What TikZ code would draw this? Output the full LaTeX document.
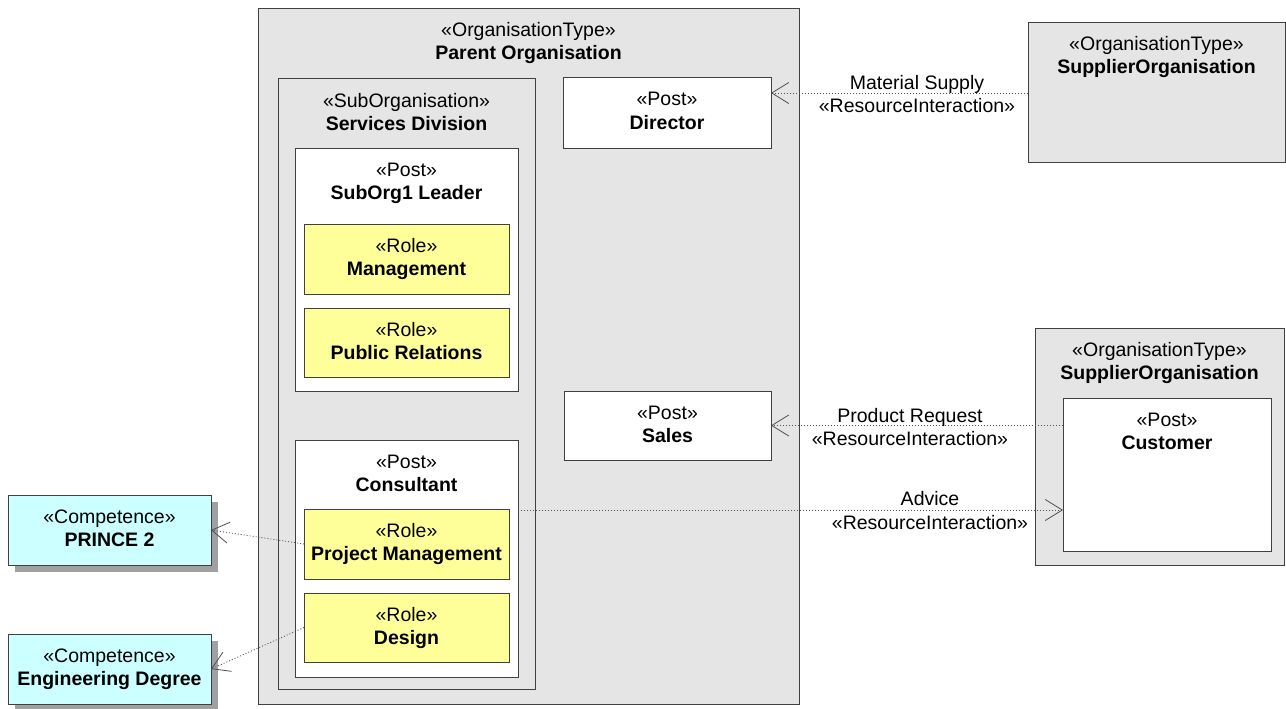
\documentclass[tikz,border=0pt]{standalone}
\usepackage{fontspec}
\setmainfont{Liberation Sans}
\usetikzlibrary{arrows.meta,shadows}
\definecolor{orggray}{HTML}{E5E5E5}
\definecolor{roleyel}{HTML}{FFFF99}
\definecolor{compcyan}{HTML}{CCFFFF}
\definecolor{edgecol}{HTML}{404040}
\definecolor{shadowgray}{HTML}{A0A0A0}
\definecolor{conncol}{HTML}{505050}
\newcommand{\umlbox}[8]{%
  \node[#2, minimum width={(#5-#3)*1pt}, minimum height={(#6-#4)*1pt}] (#1) at ({(#3+#5)/2},{(#4+#6)/2}) {};
  \node[stxt] (#1-s) at ({(#3+#5)/2},{#4+28}) {«#7»};
  \node[ttxt] (#1-t) at ({(#3+#5)/2},{#4+51}) {#8};}
\tikzset{
  boxbase/.style={draw=edgecol, line width=1pt, inner sep=0pt, outer sep=0pt},
  orgbox/.style={boxbase, fill=orggray},
  postbox/.style={boxbase, fill=white},
  rolebox/.style={boxbase, fill=roleyel},
  compbox/.style={boxbase, fill=compcyan, drop shadow={shadow xshift=7pt, shadow yshift=-7pt, fill=shadowgray, opacity=1}},
  stxt/.style={anchor=base, inner sep=0pt, font=\fontsize{19.5}{23}\selectfont},
  ttxt/.style={anchor=base, inner sep=0pt, font=\fontsize{19.5}{23}\selectfont\bfseries},
  lbl/.style={anchor=base, inner sep=0pt, font=\fontsize{19.5}{23}\selectfont},
  conn/.style={draw=conncol, line width=0.8pt, dash pattern=on 1pt off 2pt,
    -{Straight Barb[length=17pt, width=21pt, line width=0.8pt]}},
}
\begin{document}
\begin{tikzpicture}[x=1pt, y=-1pt]
\useasboundingbox (0,0) rectangle (1286,709);
% parent organisation
\umlbox{parent}{orgbox}{258}{9}{799}{704}{OrganisationType}{Parent Organisation}
\umlbox{suborg}{orgbox}{278}{79}{535}{689}{SubOrganisation}{Services Division}
\umlbox{lead}{postbox}{295}{148}{518}{391}{Post}{SubOrg1 Leader}
\umlbox{mgmt}{rolebox}{304}{224}{509}{294}{Role}{Management}
\umlbox{pubrel}{rolebox}{304}{308}{509}{377}{Role}{Public Relations}
\umlbox{cons}{postbox}{295}{440}{518}{677}{Post}{Consultant}
\umlbox{pm}{rolebox}{304}{509}{509}{579}{Role}{Project Management}
\umlbox{design}{rolebox}{304}{593}{509}{662}{Role}{Design}
\umlbox{dir}{postbox}{563}{78}{771}{148}{Post}{Director}
\umlbox{sales}{postbox}{564}{391}{771}{460}{Post}{Sales}
% suppliers
\umlbox{supA}{orgbox}{1028}{23}{1285}{162}{OrganisationType}{SupplierOrganisation}
\umlbox{supB}{orgbox}{1035}{328}{1284}{565}{OrganisationType}{SupplierOrganisation}
\umlbox{cust}{postbox}{1063}{398}{1271}{551}{Post}{Customer}
% competences
\umlbox{prince}{compbox}{8}{495}{211}{565}{Competence}{PRINCE 2}
\umlbox{eng}{compbox}{8}{634}{211}{704}{Competence}{Engineering Degree}
% connector levels
\coordinate (msY) at (0,93);
\coordinate (advY) at (0,510);
% connectors
\draw[conn] (supA.west |- msY) -- (dir.east |- msY);
\draw[conn] (cust.west |- sales.east) -- (sales.east);
\draw[conn] (cons.east |- advY) -- (cust.west |- advY);
\draw[conn] (pm.west) -- (prince.east);
\draw[conn] (design.west) -- (eng.east);
% connector labels
\node[lbl] (ms1) at (917,89) {Material Supply};
\node[lbl] (ms2) at (917,112) {«ResourceInteraction»};
\node[lbl] (pr1) at (910,422) {Product Request};
\node[lbl] (pr2) at (910,445) {«ResourceInteraction»};
\node[lbl] (ad1) at (930,505) {Advice};
\node[lbl] (ad2) at (930,529) {«ResourceInteraction»};
\end{tikzpicture}
\end{document}
